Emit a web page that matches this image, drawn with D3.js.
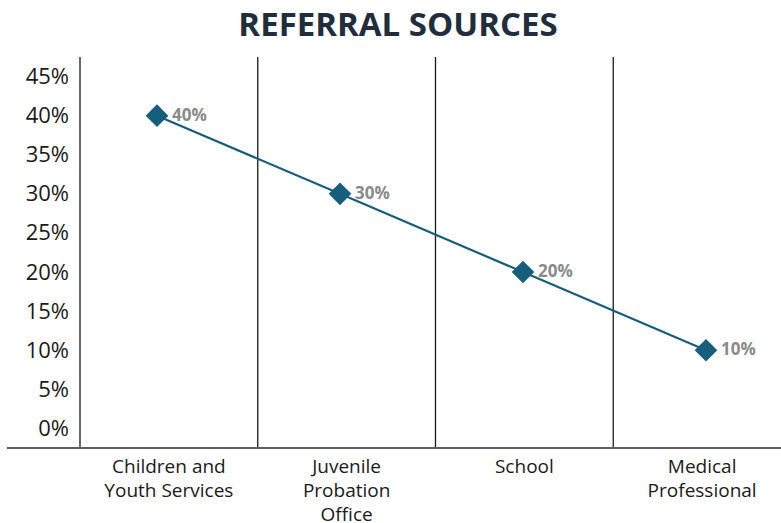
<!DOCTYPE html>
<html>
<head>
<meta charset="utf-8">
<script src="https://cdn.jsdelivr.net/npm/d3@7/dist/d3.min.js"></script>
<style>
  html, body { margin: 0; padding: 0; background: #fff; }
  svg { display: block; font-family: "Open Sans", sans-serif; }
</style>
</head>
<body>
<svg id="chart" width="781" height="523"></svg>
<script>
// Referral source shares
const categories = [
  ["Children and", "Youth Services"],
  ["Juvenile", "Probation", "Office"],
  ["School"],
  ["Medical", "Professional"]
];
const shares = [40, 30, 20, 10];
const yTicks = [0, 5, 10, 15, 20, 25, 30, 35, 40, 45];

const svg = d3.select("#chart");
const W = 781, H = 523;
const plot = { left: 80, right: 791, top: 57, bottom: 448 };

const keys = categories.map(c => c.join(" "));

// Bands separate the categories with vertical rules
const xBand = d3.scaleBand().domain(keys).range([plot.left, plot.right]);
// Marker positions along the line
const xPoint = d3.scalePoint().domain(keys).range([157, 706]);
const y = d3.scaleLinear().domain([-2.5, 47.5]).range([plot.bottom, plot.top]);

// Title
svg.append("text")
  .attr("x", 398).attr("y", 36)
  .attr("text-anchor", "middle")
  .attr("font-size", 33).attr("font-weight", 700)
  .attr("fill", "#1f2d3d")
  .text("REFERRAL SOURCES");

// Vertical separators between categories
svg.append("g").selectAll("line")
  .data(keys.slice(1))
  .join("line")
  .attr("x1", d => xBand(d)).attr("x2", d => xBand(d))
  .attr("y1", plot.top).attr("y2", plot.bottom)
  .attr("stroke", "#1a1a1a").attr("stroke-width", 1.3);

// Y axis
const yAxis = svg.append("g")
  .attr("transform", `translate(${plot.left},0)`)
  .call(d3.axisLeft(y).tickValues(yTicks).tickFormat(d => d + "%").tickSize(0).tickPadding(11));
yAxis.select(".domain").remove();
yAxis.selectAll("text")
  .attr("font-size", 22).attr("fill", "#1a1a1a")
  .attr("font-family", "Open Sans, sans-serif");
svg.append("line")
  .attr("x1", plot.left).attr("x2", plot.left)
  .attr("y1", plot.top).attr("y2", plot.bottom)
  .attr("stroke", "#1a1a1a").attr("stroke-width", 1.3);

// Baseline
svg.append("line")
  .attr("x1", 7).attr("x2", W)
  .attr("y1", plot.bottom).attr("y2", plot.bottom)
  .attr("stroke", "#5f5f5f").attr("stroke-width", 2);

// Category labels
const catG = svg.append("g");
categories.forEach((lines, i) => {
  const cx = xBand(keys[i]) + xBand.bandwidth() / 2;
  const t = catG.append("text")
    .attr("x", cx)
    .attr("y", 473)
    .attr("text-anchor", "middle")
    .attr("font-size", 19).attr("fill", "#1a1a1a");
  lines.forEach((ln, j) => {
    t.append("tspan")
      .attr("x", cx)
      .attr("dy", j === 0 ? 0 : 24)
      .text(ln);
  });
});

// Line
const pts = keys.map((k, i) => ({ k, v: shares[i] }));
svg.append("path")
  .datum(pts)
  .attr("fill", "none")
  .attr("stroke", "#175e7c").attr("stroke-width", 2.2)
  .attr("d", d3.line().x(d => xPoint(d.k)).y(d => y(d.v)));

// Diamond markers
svg.append("g").selectAll("path")
  .data(pts)
  .join("path")
  .attr("transform", d => `translate(${xPoint(d.k)},${y(d.v)}) rotate(45)`)
  .attr("d", "M-8,-8H8V8H-8Z")
  .attr("fill", "#175e7c");

// Value labels
svg.append("g").selectAll("text")
  .data(pts)
  .join("text")
  .attr("x", d => xPoint(d.k) + 15)
  .attr("y", d => y(d.v) + 5)
  .attr("font-size", 17).attr("font-weight", 700)
  .attr("fill", "#8a8a8a")
  .text(d => d.v + "%");
</script>
</body>
</html>
